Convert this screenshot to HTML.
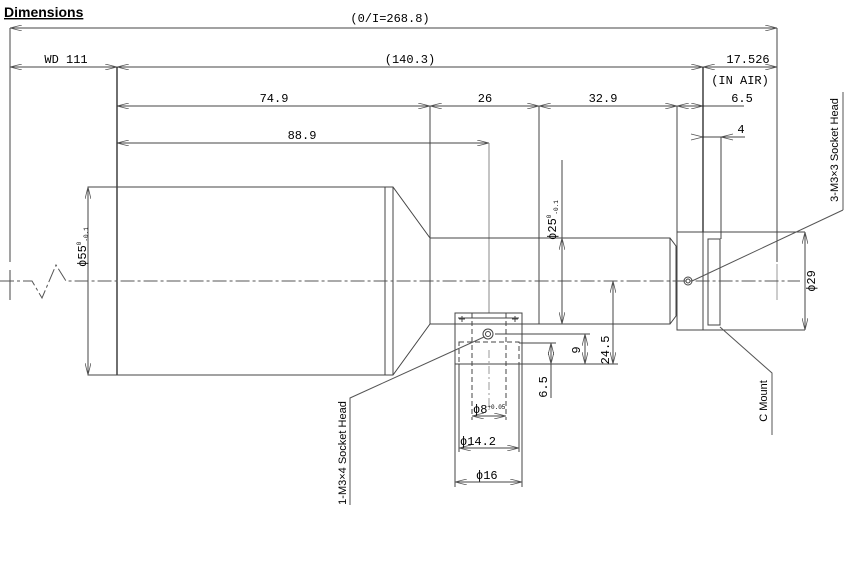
<!DOCTYPE html>
<html><head><meta charset="utf-8"><style>
html,body{margin:0;padding:0;background:#fff;}
svg{display:block;}
text{font-family:"Liberation Sans",sans-serif;fill:#000;}
.m text{font-family:"Liberation Mono",monospace;font-size:12px;}
</style></head><body>
<svg width="854" height="566" viewBox="0 0 854 566" xmlns="http://www.w3.org/2000/svg">
<defs>
<marker id="a" viewBox="0 0 12 6" refX="12" refY="3" markerWidth="12" markerHeight="6" markerUnits="userSpaceOnUse" orient="auto-start-reverse">
<path d="M0,0 L12,3 L0,6" fill="none" stroke="#555" stroke-width="0.8"/></marker>
</defs>
<text x="4" y="17" font-size="14" font-weight="bold" text-decoration="underline">Dimensions</text>
<g stroke="#444" stroke-width="1" fill="none">
<line x1="10" y1="28" x2="777" y2="28" marker-start="url(#a)" marker-end="url(#a)"/>
<line x1="10" y1="67" x2="117" y2="67" marker-start="url(#a)" marker-end="url(#a)"/>
<line x1="117" y1="67" x2="703" y2="67" marker-start="url(#a)" marker-end="url(#a)"/>
<line x1="703" y1="67" x2="777" y2="67" marker-start="url(#a)" marker-end="url(#a)"/>
<line x1="117" y1="106" x2="430" y2="106" marker-start="url(#a)" marker-end="url(#a)"/>
<line x1="430" y1="106" x2="539" y2="106" marker-start="url(#a)" marker-end="url(#a)"/>
<line x1="539" y1="106" x2="677" y2="106" marker-start="url(#a)" marker-end="url(#a)"/>
<line x1="677" y1="106" x2="703" y2="106" marker-start="url(#a)" marker-end="url(#a)"/>
<line x1="703" y1="106" x2="744" y2="106"/>
<line x1="117" y1="143" x2="489" y2="143" marker-start="url(#a)" marker-end="url(#a)"/>
<path d="M691,134 L703,137 L691,140 M733,134 L721,137 L733,140" stroke="#555" stroke-width="0.8"/>
<line x1="703" y1="137" x2="745" y2="137"/>
<line x1="10" y1="28" x2="10" y2="262"/>
<line x1="10" y1="270" x2="10" y2="300"/>
<line x1="777" y1="28" x2="777" y2="262"/>
<line x1="777" y1="264" x2="777" y2="300" stroke="#999"/>
<line x1="117" y1="67" x2="117" y2="375" stroke="#222" stroke-width="1.3"/>
<line x1="430" y1="106" x2="430" y2="238"/>
<line x1="539" y1="106" x2="539" y2="238"/>
<line x1="677" y1="106" x2="677" y2="232"/>
<line x1="703" y1="67" x2="703" y2="232" stroke="#222" stroke-width="1.3"/>
<line x1="721" y1="137" x2="721" y2="239"/>
<line x1="489" y1="143" x2="489" y2="313" stroke="#888"/>
<rect x="88" y="187" width="297" height="188"/>
<line x1="393" y1="187" x2="393" y2="375"/>
<path d="M385,187 L393,187 L430,238 M385,375 L393,375 L430,324"/>
<line x1="88" y1="187" x2="88" y2="375" marker-start="url(#a)" marker-end="url(#a)"/>
<path d="M430,238 L670,238 L676,246 L676,316 L670,324 L430,324 Z"/>
<line x1="539" y1="238" x2="539" y2="324"/>
<line x1="670" y1="238" x2="670" y2="324"/>
<rect x="677" y="232" width="26" height="98"/>
<line x1="703" y1="232" x2="805" y2="232"/>
<line x1="703" y1="330" x2="805" y2="330"/>
<rect x="708" y="239" width="12" height="86"/>
<line x1="805" y1="232" x2="805" y2="330" marker-start="url(#a)" marker-end="url(#a)"/>
<circle cx="688" cy="281" r="4"/><circle cx="688" cy="281" r="2"/>
<path d="M0,281 L32,281 L42,298 L56,265 L66,281 L800,281" stroke-dasharray="14,3,3,3" stroke="#555"/>
<line x1="562" y1="238" x2="562" y2="324" marker-start="url(#a)" marker-end="url(#a)"/>
<line x1="562" y1="160" x2="562" y2="238"/>
<path d="M455,364 L455,313 L522,313 L522,364 Z"/>
<line x1="458" y1="318" x2="519" y2="318"/>
<path d="M472,313 L472,420 M506,313 L506,420" stroke-dasharray="5,3"/>
<rect x="459" y="342" width="60" height="22" stroke-dasharray="5,3"/>
<circle cx="488" cy="334" r="5"/><circle cx="488" cy="334" r="2.5"/>
<line x1="489" y1="350" x2="489" y2="410" stroke="#999" stroke-dasharray="8,3,2,3"/>
<path d="M462,316 v6 M459,319 h6 M515,316 v6 M512,319 h6"/>
<line x1="459" y1="364" x2="459" y2="452"/>
<line x1="519" y1="364" x2="519" y2="452"/>
<line x1="455" y1="364" x2="455" y2="487"/>
<line x1="522" y1="364" x2="522" y2="487"/>
<line x1="472" y1="416" x2="506" y2="416" marker-start="url(#a)" marker-end="url(#a)"/>
<line x1="459" y1="448" x2="519" y2="448" marker-start="url(#a)" marker-end="url(#a)"/>
<line x1="455" y1="482" x2="522" y2="482" marker-start="url(#a)" marker-end="url(#a)"/>
<line x1="495" y1="334" x2="590" y2="334"/>
<line x1="519" y1="343" x2="556" y2="343"/>
<line x1="522" y1="364" x2="618" y2="364"/>
<line x1="585" y1="334" x2="585" y2="364" marker-start="url(#a)" marker-end="url(#a)"/>
<line x1="551" y1="343" x2="551" y2="364" marker-start="url(#a)" marker-end="url(#a)"/>
<line x1="551" y1="364" x2="551" y2="398"/>
<line x1="613" y1="281" x2="613" y2="364" marker-start="url(#a)" marker-end="url(#a)"/>
<path d="M350,505 L350,398 L484,337" stroke="#555"/>
<path d="M843,210 L843,92 M843,210 L692,281" stroke="#555"/>
<path d="M720,327 L772,373 L772,435" stroke="#555"/>
</g>
<g class="m">
<text x="390" y="22" text-anchor="middle">(0/I=268.8)</text>
<text x="66" y="63" text-anchor="middle">WD 111</text>
<text x="410" y="63" text-anchor="middle">(140.3)</text>
<text x="748" y="63" text-anchor="middle">17.526</text>
<text x="740" y="84" text-anchor="middle">(IN AIR)</text>
<text x="274" y="102" text-anchor="middle">74.9</text>
<text x="485" y="102" text-anchor="middle">26</text>
<text x="603" y="102" text-anchor="middle">32.9</text>
<text x="742" y="102" text-anchor="middle">6.5</text>
<text x="741" y="133" text-anchor="middle">4</text>
<text x="302" y="139" text-anchor="middle">88.9</text>
<text x="473" y="413">ϕ8<tspan font-size="6" dy="-4">+0.05</tspan></text>
<text x="460" y="445">ϕ14.2</text>
<text x="476" y="479">ϕ16</text>
<text transform="translate(580,350) rotate(-90)" text-anchor="middle">9</text>
<text transform="translate(547,387) rotate(-90)" text-anchor="middle">6.5</text>
<text transform="translate(609,350) rotate(-90)" text-anchor="middle">24.5</text>
<text transform="translate(815,281) rotate(-90)" text-anchor="middle">ϕ29</text>
<text transform="translate(86,247) rotate(-90)" text-anchor="middle">ϕ55<tspan font-size="6" dy="-5">0</tspan><tspan font-size="6" dy="7">-0.1</tspan></text>
<text transform="translate(556,220) rotate(-90)" text-anchor="middle">ϕ25<tspan font-size="6" dy="-5">0</tspan><tspan font-size="6" dy="7">-0.1</tspan></text>
</g>
<g font-size="11">
<text transform="translate(346,453) rotate(-90)" text-anchor="middle">1-M3×4 Socket Head</text>
<text transform="translate(838,150) rotate(-90)" text-anchor="middle">3-M3×3 Socket Head</text>
<text transform="translate(767,401) rotate(-90)" text-anchor="middle">C Mount</text>
</g>
</svg>
</body></html>
